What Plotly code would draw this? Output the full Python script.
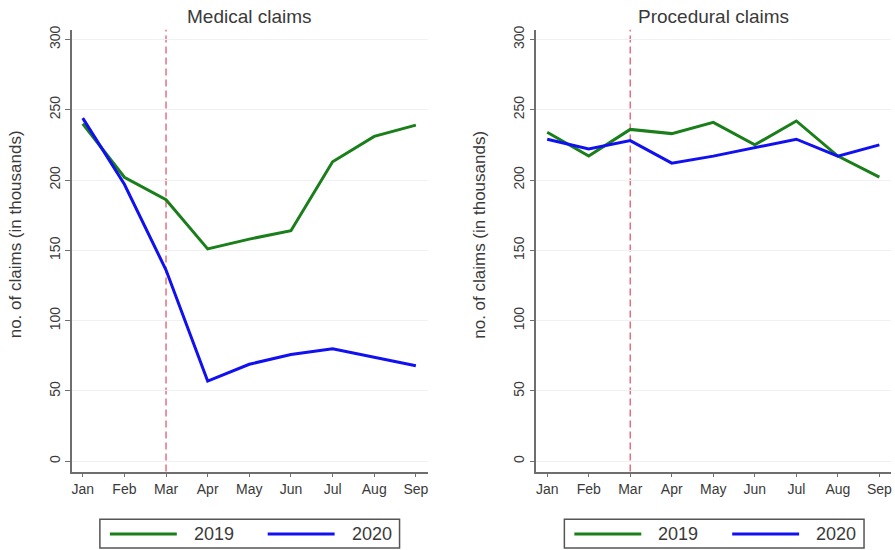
import plotly.graph_objects as go

months = ["Jan", "Feb", "Mar", "Apr", "May", "Jun", "Jul", "Aug", "Sep"]

medical_2019 = [240, 202, 186, 151, 158, 164, 213, 231, 239]
medical_2020 = [244, 197, 136, 57, 69, 76, 80, 74, 68]

procedural_2019 = [234, 217, 236, 233, 241, 225, 242, 217, 202]
procedural_2020 = [229, 222, 228, 212, 217, 223, 229, 217, 225]

years = ["2019", "2020"]
y_ticks = [0, 50, 100, 150, 200, 250, 300]
cutoff_month = "Mar"
panel_titles = ["Medical claims", "Procedural claims"]
y_title = "no. of claims (in thousands)"

GREEN = "#1a7f1a"
BLUE = "#1010f0"
COLORS = [GREEN, BLUE]
FONT = "Liberation Sans, Arial, sans-serif"
AXIS_GREY = "#6e6e6e"
TEXT = "#3a3a3a"

W, H = 895, 550


def px_x(v):
    return v / W


def px_y(v):
    return 1 - v / H


fig = go.Figure()

panels = [
    ("x", "y", medical_2019, medical_2020),
    ("x2", "y2", procedural_2019, procedural_2020),
]
for xa, ya, s19, s20 in panels:
    for name, series, color in zip(years, [s19, s20], COLORS):
        fig.add_trace(go.Scatter(x=months, y=series, name=name, mode="lines",
                                 line=dict(color=color, width=3),
                                 xaxis=xa, yaxis=ya, showlegend=False))

x_domains = [(px_x(72), px_x(428)), (px_x(537), px_x(892))]
y_domain = (px_y(471), px_y(26))

xaxis_common = dict(
    type="category", categoryorder="array", categoryarray=months,
    range=[-0.26, 8.28], showgrid=False, zeroline=False,
    showline=True, linecolor=AXIS_GREY, linewidth=1.5,
    ticks="outside", ticklen=4, tickcolor=AXIS_GREY, tickwidth=1,
    tickfont=dict(family=FONT, size=14, color=TEXT),
)
yaxis_common = dict(
    range=[-7.3, 306.8], tickvals=y_ticks, tickangle=-90,
    showgrid=True, gridcolor="#f1f1f1", gridwidth=1, zeroline=False,
    showline=True, linecolor=AXIS_GREY, linewidth=1.5,
    ticks="outside", ticklen=5, tickcolor=AXIS_GREY, tickwidth=1,
    tickfont=dict(family=FONT, size=14, color=TEXT),
)

fig.update_layout(
    width=W, height=H,
    margin=dict(l=0, r=0, t=0, b=0),
    paper_bgcolor="white", plot_bgcolor="white",
    font=dict(family=FONT, color=TEXT),
    showlegend=False,
    xaxis=dict(domain=x_domains[0], anchor="y", **xaxis_common),
    yaxis=dict(domain=y_domain, anchor="x", **yaxis_common),
    xaxis2=dict(domain=x_domains[1], anchor="y2", **xaxis_common),
    yaxis2=dict(domain=y_domain, anchor="x2", **yaxis_common),
)

# Panel titles and vertical axis titles
for xd, title, ytitle_x in zip(x_domains, panel_titles, [15, 480]):
    fig.add_annotation(x=(xd[0] + xd[1]) / 2, y=px_y(13), xref="paper", yref="paper",
                       text=title, showarrow=False, xanchor="center", yanchor="middle",
                       font=dict(family=FONT, size=19, color=TEXT))
    fig.add_annotation(x=px_x(ytitle_x), y=px_y(232), xref="paper", yref="paper",
                       text=y_title, textangle=-90, showarrow=False,
                       xanchor="center", yanchor="middle",
                       font=dict(family=FONT, size=17, color=TEXT))

# Dashed reference line at the cutoff month
for xa, ya in [("x", "y"), ("x2", "y2")]:
    fig.add_shape(type="line", xref=xa, yref=f"{ya} domain",
                  x0=cutoff_month, x1=cutoff_month, y0=0, y1=1,
                  line=dict(color="#e8707c", width=1.5, dash="7px,4px"),
                  layer="below")

# Boxed legend beneath each panel
legend_lefts = [100, 565]
for left in legend_lefts:
    fig.add_shape(type="rect", xref="paper", yref="paper",
                  x0=px_x(left), x1=px_x(left + 300), y0=px_y(548), y1=px_y(519),
                  line=dict(color="#555555", width=1.5), fillcolor="white")
    for i, (name, color) in enumerate(zip(years, COLORS)):
        sx = left + 10 + i * 158
        fig.add_shape(type="line", xref="paper", yref="paper",
                      x0=px_x(sx), x1=px_x(sx + 67), y0=px_y(534), y1=px_y(534),
                      line=dict(color=color, width=3))
        fig.add_annotation(x=px_x(sx + 82), y=px_y(534), xref="paper", yref="paper",
                           text=name, showarrow=False, xanchor="left", yanchor="middle",
                           font=dict(family=FONT, size=18, color=TEXT))

fig.write_html("out.html")
